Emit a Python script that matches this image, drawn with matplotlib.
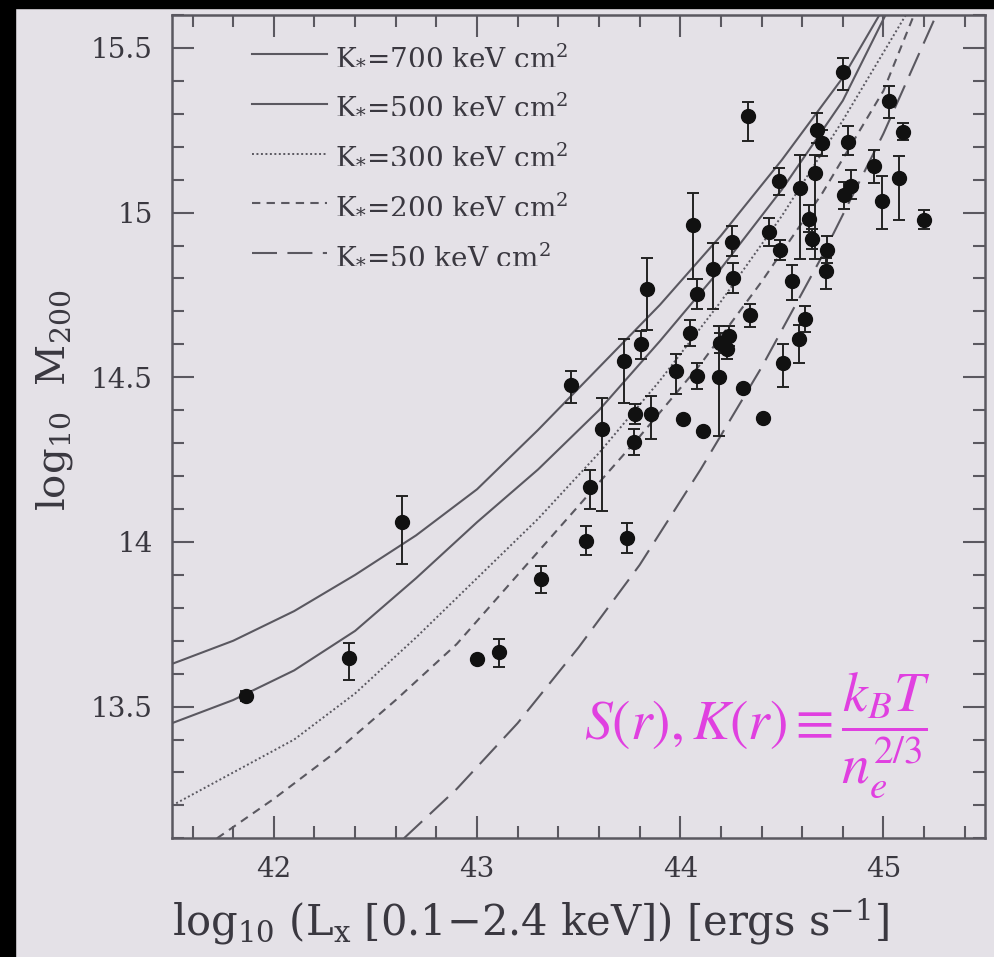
import matplotlib
matplotlib.use("Agg")
import matplotlib.pyplot as plt
from matplotlib.patches import Rectangle
from matplotlib.ticker import MultipleLocator

# ---------------- data ----------------
k700_x = [41.5, 41.8, 42.1, 42.4, 42.7, 43.0, 43.3, 43.6, 43.9, 44.2, 44.5, 44.8, 44.98]
k700_y = [13.63, 13.70, 13.79, 13.90, 14.02, 14.16, 14.34, 14.53, 14.72, 14.93, 15.16, 15.41, 15.6]

k500_x = [41.5, 41.8, 42.1, 42.4, 42.7, 43.0, 43.3, 43.6, 43.9, 44.2, 44.5, 44.8, 45.01]
k500_y = [13.45, 13.52, 13.61, 13.73, 13.89, 14.06, 14.22, 14.40, 14.61, 14.83, 15.07, 15.34, 15.6]

k300_x = [41.5, 41.8, 42.1, 42.4, 42.7, 43.0, 43.3, 43.6, 43.9, 44.2, 44.5, 44.8, 45.11]
k300_y = [13.20, 13.30, 13.40, 13.54, 13.71, 13.89, 14.07, 14.27, 14.49, 14.73, 14.99, 15.28, 15.6]

k200_x = [41.72, 42.0, 42.3, 42.6, 42.9, 43.2, 43.5, 43.8, 44.1, 44.4, 44.7, 45.0, 45.15]
k200_y = [13.10, 13.22, 13.36, 13.52, 13.69, 13.90, 14.11, 14.32, 14.54, 14.79, 15.06, 15.37, 15.6]

k50_x = [42.64, 42.9, 43.2, 43.5, 43.8, 44.1, 44.4, 44.7, 45.0, 45.26]
k50_y = [13.10, 13.25, 13.45, 13.68, 13.93, 14.22, 14.53, 14.87, 15.24, 15.6]

curve_labels = [r"K$_{*}$=700 keV cm$^{2}$", r"K$_{*}$=500 keV cm$^{2}$",
                r"K$_{*}$=300 keV cm$^{2}$", r"K$_{*}$=200 keV cm$^{2}$",
                r"K$_{*}$=50 keV cm$^{2}$"]

# clusters: log Lx, log M200, lower error, upper error
lx = [41.863, 42.371, 42.629, 43.000, 43.110, 43.313, 43.536, 43.736, 43.556, 43.616,
      43.461, 43.723, 43.805, 43.835, 43.777, 43.854, 43.772, 43.979, 44.015, 44.048,
      44.064, 44.081, 44.081, 44.160, 44.192, 44.113, 44.196, 44.241, 44.228, 44.256,
      44.261, 44.310, 44.343, 44.335, 44.408, 44.437, 44.487, 44.489, 44.504, 44.550,
      44.586, 44.589, 44.614, 44.634, 44.649, 44.663, 44.674, 44.700, 44.720, 44.717,
      44.800, 44.824, 44.806, 44.838, 44.953, 44.991, 45.029, 45.078, 45.095, 45.200]
m200 = [13.532, 13.648, 14.062, 13.645, 13.666, 13.886, 14.004, 14.011, 14.166, 14.342,
        14.478, 14.549, 14.600, 14.767, 14.388, 14.388, 14.304, 14.519, 14.373, 14.635,
        14.961, 14.752, 14.504, 14.830, 14.501, 14.336, 14.605, 14.625, 14.585, 14.911,
        14.802, 14.466, 14.688, 15.292, 14.376, 14.942, 15.095, 14.887, 14.544, 14.792,
        14.617, 15.075, 14.677, 14.982, 14.920, 15.120, 15.252, 15.211, 14.888, 14.822,
        15.428, 15.213, 15.052, 15.080, 15.142, 15.034, 15.340, 15.105, 15.246, 14.979]
err_lo = [0.015, 0.068, 0.129, 0.0, 0.046, 0.040, 0.045, 0.045, 0.066, 0.249,
          0.057, 0.126, 0.045, 0.122, 0.030, 0.076, 0.040, 0.071, 0.0, 0.040,
          0.164, 0.046, 0.040, 0.124, 0.179, 0.0, 0.030, 0.030, 0.030, 0.043,
          0.045, 0.0, 0.035, 0.076, 0.0, 0.044, 0.040, 0.030, 0.072, 0.056,
          0.073, 0.217, 0.040, 0.040, 0.030, 0.262, 0.040, 0.040, 0.040, 0.055,
          0.055, 0.037, 0.040, 0.040, 0.052, 0.083, 0.053, 0.126, 0.025, 0.030]
err_hi = [0.015, 0.046, 0.076, 0.0, 0.040, 0.040, 0.045, 0.045, 0.051, 0.096,
          0.041, 0.066, 0.040, 0.096, 0.030, 0.055, 0.040, 0.051, 0.0, 0.040,
          0.099, 0.045, 0.040, 0.078, 0.155, 0.0, 0.030, 0.030, 0.030, 0.048,
          0.046, 0.0, 0.035, 0.045, 0.0, 0.042, 0.040, 0.030, 0.056, 0.050,
          0.043, 0.101, 0.040, 0.040, 0.030, 0.056, 0.050, 0.040, 0.040, 0.040,
          0.041, 0.049, 0.040, 0.050, 0.049, 0.076, 0.043, 0.068, 0.025, 0.030]

x_ticks = [42, 43, 44, 45]
x_ticklabels = ["42", "43", "44", "45"]
y_ticks = [13.5, 14, 14.5, 15, 15.5]
y_ticklabels = ["13.5", "14", "14.5", "15", "15.5"]

# ---------------- style ----------------
BG = "#e4e1e7"
LINE = "#5a5860"
TXT = "#3a3840"
plt.rcParams["font.family"] = ["DejaVu Serif"]
plt.rcParams["mathtext.fontset"] = "dejavuserif"

fig = plt.figure(figsize=(9.94, 9.57), dpi=100, facecolor=BG)
ax = fig.add_axes([0.1733, 0.124, 0.991 - 0.1733, 0.9843 - 0.124])
ax.set_facecolor(BG)

# black frame strips from the photo
fig.patches.append(Rectangle((0, 0), 15 / 994, 1, transform=fig.transFigure,
                             color="black", zorder=0))
fig.patches.append(Rectangle((0, 1 - 8 / 957), 1, 8 / 957, transform=fig.transFigure,
                             color="black", zorder=0))

ax.plot(k700_x, k700_y, color=LINE, lw=1.5, ls="-", label=curve_labels[0])
ax.plot(k500_x, k500_y, color=LINE, lw=1.5, ls="-", label=curve_labels[1])
ax.plot(k300_x, k300_y, color=LINE, lw=1.4, ls=(0, (1, 1.3)), label=curve_labels[2])
ax.plot(k200_x, k200_y, color=LINE, lw=1.5, ls=(0, (4, 3)), label=curve_labels[3])
ax.plot(k50_x, k50_y, color=LINE, lw=1.5, ls=(0, (12, 5)), label=curve_labels[4])

ax.errorbar(lx, m200, yerr=[err_lo, err_hi], fmt="o", color="#111111",
            ms=10, elinewidth=1.4, capsize=4.6, capthick=1.4, ecolor="#222222",
            zorder=5)

ax.set_xlim(41.5, 45.5)
ax.set_ylim(13.1, 15.6)
ax.set_xticks(x_ticks)
ax.set_xticklabels(x_ticklabels)
ax.set_yticks(y_ticks)
ax.set_yticklabels(y_ticklabels)
ax.xaxis.set_minor_locator(MultipleLocator(0.2))
ax.yaxis.set_minor_locator(MultipleLocator(0.1))
ax.tick_params(which="both", direction="in", top=True, right=True,
               colors=LINE, labelcolor=TXT, labelsize=20, width=1.5)
ax.tick_params(which="major", length=16)
ax.tick_params(which="minor", length=8.5)
ax.tick_params(axis="x", pad=13)
ax.tick_params(axis="y", pad=14)
for s in ax.spines.values():
    s.set_color(LINE)
    s.set_linewidth(1.8)

ax.set_xlabel(r"log$_{10}$ (L$_{\rm x}$ [0.1$-$2.4 keV]) [ergs s$^{-1}$]",
              fontsize=30, color=TXT)
ax.xaxis.set_label_coords(0.441, -0.07)
ax.set_ylabel(r"log$_{10}$  M$_{200}$", fontsize=29, color=TXT)
ax.yaxis.set_label_coords(-0.12, 0.532)

leg = ax.legend(loc="upper left", bbox_to_anchor=(0.074, 0.99), frameon=False,
                fontsize=20, handlelength=2.7, handletextpad=0.3,
                labelspacing=0.82, borderpad=0.2)
for t in leg.get_texts():
    t.set_color(TXT)

ax.text(0.72, 0.125, r"$S(r),K(r)\equiv\dfrac{k_{B}T}{n_{e}^{2/3}}$",
        transform=ax.transAxes, ha="center", va="center", fontsize=40,
        color="#e040e0", math_fontfamily="stix")

fig.savefig("out.png", dpi=100, facecolor=BG)
